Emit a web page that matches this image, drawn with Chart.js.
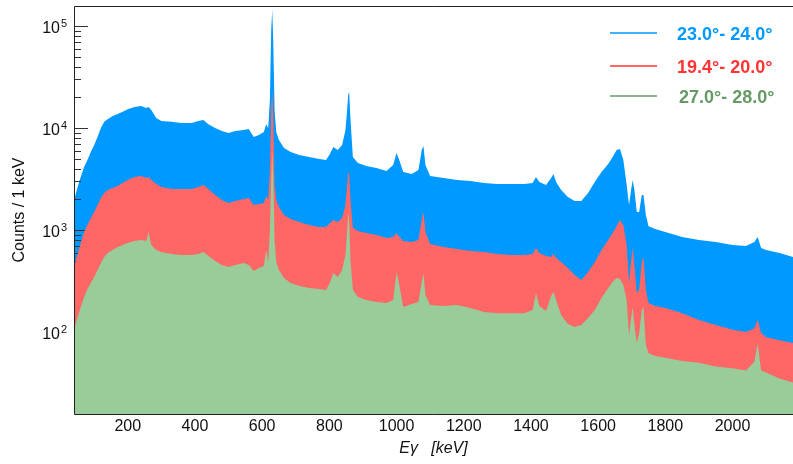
<!DOCTYPE html>
<html>
<head>
<meta charset="utf-8">
<script src="https://cdn.jsdelivr.net/npm/chart.js@4.4.1/dist/chart.umd.min.js"></script>
<style>
  html, body { margin: 0; padding: 0; background: #fff; overflow: hidden; }
  canvas { display: block; }
</style>
</head>
<body>
<canvas id="spectrumChart" width="793" height="464"></canvas>
<script>
    // gamma energy (keV)
    const energies = [40, 50, 60, 70, 80, 90, 100, 110, 120, 130, 140, 155, 170, 185, 200,
        220, 240, 255, 262, 270, 285, 300, 330, 360, 390, 410, 425, 440, 460, 480,
        500, 520, 545, 560, 575, 590, 605, 612, 618, 623, 627, 630, 633, 637, 642,
        650, 665, 685, 710, 740, 770, 790, 800, 812, 825, 838, 848, 853, 856, 859,
        863, 870, 885, 910, 940, 970, 990, 1000, 1008, 1020, 1045, 1065, 1075, 1080, 1086,
        1100, 1140, 1180, 1220, 1260, 1300, 1340, 1380, 1405, 1415, 1425, 1445, 1460, 1467, 1475,
        1490, 1510, 1530, 1550, 1570, 1590, 1610, 1630, 1645, 1655, 1665, 1675, 1685, 1692, 1698,
        1703, 1708, 1715, 1722, 1730, 1735, 1742, 1750, 1770, 1800, 1850, 1900, 1950, 2000, 2040,
        2065, 2075, 2085, 2100, 2140, 2180];

    // counts / 1 keV for each angle window
    const counts23 = [1970, 2580, 3310, 4150, 4860, 5820, 6810, 8160, 10000, 11500, 12200, 13100, 13700, 14400, 15300,
        16100, 16400, 15700, 16100, 15000, 12500, 11700, 11500, 11200, 11200, 11700, 12000, 10900, 10000, 9350,
        8930, 9350, 9550, 9780, 8160, 8530, 9140, 10900, 10000, 18800, 91400, 143600, 72900, 15000, 9140,
        7620, 6370, 5820, 5430, 5200, 4970, 4860, 5430, 6510, 6090, 6810, 9550, 15000, 21100, 22500,
        12000, 5200, 4540, 4240, 4060, 3790, 4340, 5690, 4860, 3700, 3540, 3870, 6090, 6660, 4340,
        3380, 3240, 3090, 3020, 2890, 2830, 2830, 2830, 2890, 3310, 2960, 2760, 3240, 3540, 2960,
        2470, 2110, 1920, 1920, 2310, 2960, 3700, 4440, 5310, 6090, 6230, 4860, 2760, 1760, 2470,
        3090, 2470, 1500, 1500, 2200, 2200, 1400, 1090, 1020, 955, 853, 798, 762, 712, 697,
        762, 853, 666, 637, 595, 544];
    const counts19 = [424, 569, 746, 955, 1120, 1310, 1500, 1760, 2060, 2310, 2470, 2580, 2700, 2890, 3090,
        3310, 3380, 3240, 3310, 3090, 2830, 2640, 2520, 2520, 2520, 2640, 2760, 2520, 2200, 1970,
        1840, 1920, 2010, 2060, 1760, 1800, 1840, 2150, 1970, 3870, 15000, 23600, 12000, 2760, 1970,
        1680, 1400, 1280, 1200, 1120, 1070, 1070, 1150, 1250, 1200, 1310, 1760, 2760, 3700, 3460,
        1970, 1050, 980, 935, 893, 836, 853, 935, 853, 780, 762, 798, 1250, 1500, 955,
        729, 681, 651, 622, 608, 582, 569, 569, 582, 666, 595, 556, 544, 582, 531,
        485, 424, 362, 323, 387, 485, 637, 798, 955, 1090, 1250, 1120, 712, 302, 485,
        681, 454, 241, 258, 485, 544, 258, 192, 180, 172, 153, 131, 117, 105, 100,
        109, 131, 98, 89, 83, 78];
    const counts27 = [105, 137, 176, 220, 264, 302, 346, 405, 475, 544, 595, 637, 681, 712, 746,
        780, 798, 780, 955, 712, 637, 608, 582, 569, 569, 582, 608, 556, 497, 454,
        434, 454, 475, 454, 396, 424, 444, 637, 485, 1000, 3090, 6090, 3460, 798, 485,
        405, 338, 302, 282, 270, 264, 258, 296, 379, 346, 405, 569, 1000, 1470, 1250,
        508, 258, 220, 206, 197, 192, 206, 387, 289, 176, 188, 197, 309, 379, 231,
        184, 180, 184, 172, 157, 153, 153, 153, 164, 241, 180, 161, 225, 247, 206,
        147, 120, 112, 117, 137, 164, 215, 270, 316, 338, 331, 289, 206, 93, 137,
        176, 117, 78, 98, 164, 176, 75, 62, 58, 56, 52, 50, 46, 44, 42,
        51, 78, 42, 40, 35, 32];

    const seriesLabels = ['23.0°- 24.0°', '19.4°- 20.0°', '27.0°- 28.0°'];
    const xTickValues = [200, 400, 600, 800, 1000, 1200, 1400, 1600, 1800, 2000];
    const yTickExps = [2, 3, 4, 5]; // labels 10^2 .. 10^5

    const fillColors = ['#0099ff', '#ff6666', '#99cc99'];
    const lineColors = ['#0099ff', '#ff3333', '#669966'];
    const axisFont = { family: 'Liberation Sans', size: 16 };

    const toPoints = arr => energies.map((e, i) => ({ x: e, y: arr[i] }));

    // inner tick marks on the y axis, drawn over the blue fill only
    const yTickMarks = {
        id: 'yTickMarks',
        afterDatasetDraw(chart, args) {
            if (args.index !== 0) return;
            const y = chart.scales.y, left = chart.chartArea.left, ctx = chart.ctx;
            ctx.save();
            ctx.strokeStyle = '#333';
            ctx.lineWidth = 1;
            ctx.beginPath();
            for (let e = 1; e <= 5; e++) {
                for (let m = 1; m <= 9; m++) {
                    const v = m * Math.pow(10, e);
                    if (v < y.min || v > y.max) continue;
                    const py = Math.round(y.getPixelForValue(v)) + 0.5;
                    ctx.moveTo(left, py);
                    ctx.lineTo(left + (m === 1 ? 14 : 7), py);
                }
            }
            ctx.stroke();
            ctx.restore();
        }
    };

    // frame, y tick labels with exponents, legend
    const frameAndLegend = {
        id: 'frameAndLegend',
        afterDraw(chart) {
            const { ctx, chartArea: a } = chart;
            const y = chart.scales.y;
            ctx.save();
            ctx.strokeStyle = '#222';
            ctx.lineWidth = 1;
            ctx.beginPath();
            ctx.moveTo(a.right, a.top + 0.5);
            ctx.lineTo(a.left + 0.5, a.top + 0.5);
            ctx.lineTo(a.left + 0.5, a.bottom + 0.5);
            ctx.lineTo(a.right, a.bottom + 0.5);
            ctx.stroke();

            ctx.fillStyle = '#111';
            ctx.textBaseline = 'alphabetic';
            yTickExps.forEach(exp => {
                const py = y.getPixelForValue(Math.pow(10, exp));
                ctx.font = '16px "Liberation Sans"';
                ctx.textAlign = 'right';
                ctx.fillText('10', 60, py + 7);
                ctx.font = '11px "Liberation Sans"';
                ctx.textAlign = 'left';
                ctx.fillText(String(exp), 61, py + 1.5);
            });

            const rows = [33, 66, 96];
            ctx.font = 'bold 18px "Liberation Sans"';
            ctx.textAlign = 'left';
            ctx.textBaseline = 'middle';
            seriesLabels.forEach((label, i) => {
                ctx.strokeStyle = lineColors[i];
                ctx.lineWidth = 1.5;
                ctx.beginPath();
                ctx.moveTo(610, rows[i]);
                ctx.lineTo(657, rows[i]);
                ctx.stroke();
                ctx.fillStyle = lineColors[i];
                ctx.fillText(label, 677 + (i === 2 ? 2 : 0), rows[i] + 2);
            });
            ctx.restore();
        }
    };

    const ctx = document.getElementById('spectrumChart').getContext('2d');
    new Chart(ctx, {
        type: 'line',
        data: {
            datasets: [
                { label: seriesLabels[0], data: toPoints(counts23), backgroundColor: fillColors[0], order: 3 },
                { label: seriesLabels[1], data: toPoints(counts19), backgroundColor: fillColors[1], order: 2 },
                { label: seriesLabels[2], data: toPoints(counts27), backgroundColor: fillColors[2], order: 1 }
            ].map(d => ({ ...d, fill: 'start', borderWidth: 0, pointRadius: 0, tension: 0 }))
        },
        options: {
            responsive: false,
            animation: false,
            layout: { padding: { top: 6, right: 0, left: 0, bottom: 0 } },
            plugins: {
                legend: { display: false },
                tooltip: { enabled: false }
            },
            scales: {
                x: {
                    type: 'linear',
                    min: 40,
                    max: 2180,
                    grid: { display: false, drawTicks: false },
                    border: { display: false },
                    afterBuildTicks: s => { s.ticks = xTickValues.map(v => ({ value: v })); },
                    afterFit: s => { s.height = 50; },
                    ticks: { font: axisFont, color: '#111', padding: 3, maxRotation: 0, callback: v => String(v) },
                    title: {
                        display: true,
                        text: 'Eγ   [keV]',
                        font: { ...axisFont, style: 'italic' },
                        color: '#111',
                        padding: { top: 0, bottom: 6 }
                    }
                },
                y: {
                    type: 'logarithmic',
                    min: 15.7,
                    max: 157000,
                    grid: { display: false, drawTicks: false },
                    border: { display: false },
                    afterFit: s => { s.width = 74; },
                    ticks: { display: false },
                    title: {
                        display: true,
                        text: 'Counts / 1 keV',
                        font: axisFont,
                        color: '#111',
                        padding: { top: 10, bottom: 0 }
                    }
                }
            }
        },
        plugins: [yTickMarks, frameAndLegend]
    });
</script>
</body>
</html>
